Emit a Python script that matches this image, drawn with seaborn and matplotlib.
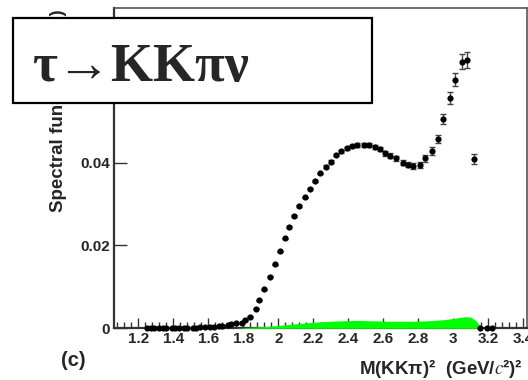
import matplotlib
matplotlib.use("Agg")
import matplotlib.pyplot as plt
import seaborn as sns
import pandas as pd
from matplotlib.patches import Rectangle

# data points, M(KKpi)^2 in GeV^2
mass2 = [1.25, 1.27, 1.29, 1.32, 1.34, 1.36, 1.39, 1.41, 1.43, 1.46,
         1.48, 1.51, 1.53, 1.55, 1.58, 1.61, 1.63, 1.66, 1.68, 1.71,
         1.73, 1.76, 1.79, 1.81, 1.84, 1.87, 1.89, 1.92, 1.95, 1.98,
         2.01, 2.04, 2.06, 2.09, 2.12, 2.15, 2.18, 2.21, 2.24, 2.27,
         2.30, 2.33, 2.36, 2.39, 2.42, 2.45, 2.49, 2.52, 2.55, 2.58,
         2.61, 2.64, 2.67, 2.71, 2.74, 2.77, 2.81, 2.84, 2.88, 2.91,
         2.94, 2.98, 3.01, 3.05, 3.08, 3.12, 3.15, 3.19, 3.22]
spectral = [0.0, 0.0, 0.0, 0.0, 0.0, 0.0, 0.0001, 0.0001, 0.0001, 0.0001,
            0.0001, 0.0001, 0.0001, 0.0002, 0.0002, 0.0003, 0.0004, 0.0005, 0.0006, 0.0008,
            0.0010, 0.0012, 0.0014, 0.0019, 0.0028, 0.0047, 0.0068, 0.0094, 0.0125, 0.0155,
            0.0186, 0.0217, 0.0244, 0.0271, 0.0295, 0.0316, 0.0337, 0.0355, 0.0374, 0.0390,
            0.0402, 0.0418, 0.0427, 0.0434, 0.0439, 0.0442, 0.0442, 0.0442, 0.0438, 0.0433,
            0.0422, 0.0416, 0.0410, 0.0400, 0.0395, 0.0392, 0.0394, 0.0410, 0.0428, 0.0457,
            0.0506, 0.0556, 0.0600, 0.0643, 0.0647, 0.0409, 0.0, 0.0, 0.0]
errors = [0.0, 0.0, 0.0, 0.0, 0.0, 0.0, 0.0, 0.0, 0.0, 0.0,
          0.0, 0.0, 0.0, 0.0, 0.0, 0.0, 0.0, 0.0, 0.0, 0.0,
          0.0001, 0.0001, 0.0001, 0.0001, 0.0001, 0.0001, 0.0001, 0.0001, 0.0001, 0.0001,
          0.0001, 0.0001, 0.0002, 0.0002, 0.0002, 0.0002, 0.0002, 0.0002, 0.0002, 0.0003,
          0.0003, 0.0003, 0.0004, 0.0004, 0.0004, 0.0005, 0.0005, 0.0005, 0.0005, 0.0005,
          0.0005, 0.0006, 0.0006, 0.0006, 0.0006, 0.0007, 0.0007, 0.0008, 0.0009, 0.0010,
          0.0012, 0.0014, 0.0016, 0.0018, 0.0019, 0.0012, 0.0, 0.0, 0.0]

# background (green band)
bkg_mass2 = [1.75, 1.85, 1.95, 2.05, 2.15, 2.25, 2.35, 2.45, 2.55, 2.65,
             2.75, 2.85, 2.95, 3.02, 3.07, 3.10, 3.13, 3.15, 3.16]
bkg = [0.0, 0.0003, 0.0005, 0.0009, 0.0013, 0.0016, 0.0018, 0.0019, 0.0018, 0.0017,
       0.0017, 0.0018, 0.0021, 0.0025, 0.0028, 0.0027, 0.0018, 0.0006, 0.0]

xticks = [1.2, 1.4, 1.6, 1.8, 2, 2.2, 2.4, 2.6, 2.8, 3, 3.2, 3.4]
xticklabels = ["1.2", "1.4", "1.6", "1.8", "2", "2.2", "2.4", "2.6", "2.8", "3", "3.2", "3.4"]
yticks = [0, 0.02, 0.04, 0.06]
yticklabels = ["0", "0.02", "0.04", "0.06"]

df = pd.DataFrame({"m2": mass2, "sf": spectral, "err": errors})

sns.set_theme(style="ticks")
plt.rcParams["font.family"] = ["Liberation Sans", "DejaVu Sans"]
plt.rcParams["mathtext.fontset"] = "stix"

fig = plt.figure(figsize=(5.28, 3.8), dpi=100)
ax = fig.add_axes([0.216, 0.136, 0.782, 0.843])

ax.fill_between(bkg_mass2, 0, bkg, color="#00ff00", lw=0, zorder=4)
ax.errorbar(df["m2"], df["sf"], yerr=df["err"], fmt="none", ecolor="#444444",
            elinewidth=1.0, capsize=2.2, capthick=1.0, zorder=5)
sns.scatterplot(data=df, x="m2", y="sf", ax=ax, color="black", s=20,
                linewidth=0, zorder=6, clip_on=False)

ax.set_xlim(1.061, 3.421)
ax.set_ylim(0, 0.0773)
ax.set_xticks(xticks)
ax.set_xticklabels(xticklabels, fontweight="bold", fontsize=11)
ax.set_yticks(yticks)
ax.set_yticklabels(yticklabels, fontweight="bold", fontsize=11)
ax.xaxis.set_minor_locator(matplotlib.ticker.MultipleLocator(0.04))
ax.tick_params(axis="x", which="major", direction="in", length=7, width=1,
               color="#333333", pad=3)
ax.tick_params(axis="x", which="minor", direction="in", length=4, width=1,
               color="#333333", bottom=True)
ax.tick_params(axis="y", which="major", direction="in", length=9, width=1,
               color="#333333", pad=3)
ax.set_xlabel("")
ax.set_ylabel("")
for side in ["left", "bottom"]:
    ax.spines[side].set_linewidth(1.6)
    ax.spines[side].set_color("#333333")
for side in ["top", "right"]:
    ax.spines[side].set_linewidth(1.2)
    ax.spines[side].set_color("#555555")

fig.text(0.110, 0.708, "Spectral function (a.u.)", rotation=90, ha="center",
         va="center", fontsize=13.5, fontweight="bold")
fig.text(0.138, 0.052, "(c)", ha="center", va="center", fontsize=14.5,
         fontweight="bold")
fig.text(0.99, 0.0, "M(KKπ)²  (GeV/$c$²)²", ha="right",
         va="bottom", fontsize=13.5, fontweight="bold")

box = Rectangle((0.0246, 0.729), 0.680, 0.2237, transform=fig.transFigure,
                facecolor="white", edgecolor="black", lw=1.6, zorder=10)
fig.add_artist(box)
fig.text(0.062, 0.787, "τ→KKπν", ha="left", va="baseline", fontsize=39,
         fontweight="bold", family=["Liberation Serif", "DejaVu Serif"], zorder=11)

fig.savefig("out.png", dpi=100)
